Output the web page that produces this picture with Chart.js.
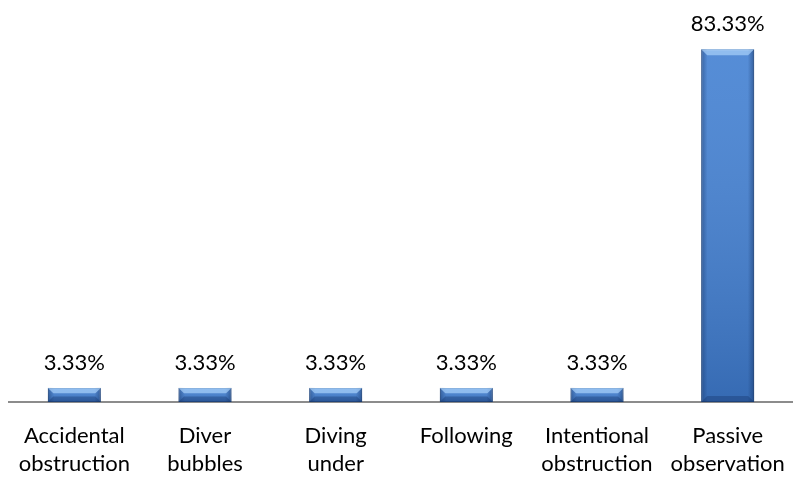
<!DOCTYPE html>
<html>
<head>
<meta charset="utf-8">
<script src="https://cdn.jsdelivr.net/npm/chart.js@4/dist/chart.umd.min.js"></script>
<style>
  html, body { margin: 0; padding: 0; background: #fff; }
  #wrap { width: 793px; height: 482px; position: relative; }
</style>
</head>
<body>
<div id="wrap"><canvas id="barChart"></canvas></div>
<script>
const categories = [
  ['Accidental', 'obstruction'],
  ['Diver', 'bubbles'],
  ['Diving', 'under'],
  ['Following'],
  ['Intentional', 'obstruction'],
  ['Passive', 'observation']
];
const percentages = [3.33, 3.33, 3.33, 3.33, 3.33, 83.33];
const valueLabels = ['3.33%', '3.33%', '3.33%', '3.33%', '3.33%', '83.33%'];

const FONT = 'Lato, "Open Sans", sans-serif';

// bevel shading + value labels, drawn over the library's bars
const barDecor = {
  id: 'barDecor',
  afterDatasetsDraw(chart) {
    const ctx = chart.ctx;
    const meta = chart.getDatasetMeta(0);
    meta.data.forEach((bar, i) => {
      const left = bar.x - bar.width / 2;
      const right = bar.x + bar.width / 2;
      const top = bar.y;
      const bottom = bar.base;
      const h = bottom - top;
      const bev = Math.min(6, h / 2.6);
      ctx.save();
      // per-bar vertical shading
      const vert = ctx.createLinearGradient(0, top, 0, bottom);
      vert.addColorStop(0, 'rgba(255,255,255,0.10)');
      vert.addColorStop(1, 'rgba(10,30,70,0.22)');
      ctx.fillStyle = vert;
      ctx.fillRect(left, top, right - left, h);
      // dark side edges
      const side = ctx.createLinearGradient(left, 0, right, 0);
      side.addColorStop(0, 'rgba(20,50,100,0.45)');
      side.addColorStop(0.12, 'rgba(20,50,100,0.0)');
      side.addColorStop(0.88, 'rgba(20,50,100,0.0)');
      side.addColorStop(1, 'rgba(20,50,100,0.5)');
      ctx.fillStyle = side;
      ctx.fillRect(left, top, right - left, h);
      // top bevel highlight
      ctx.beginPath();
      ctx.moveTo(left, top);
      ctx.lineTo(right, top);
      ctx.lineTo(right - bev, top + bev);
      ctx.lineTo(left + bev, top + bev);
      ctx.closePath();
      ctx.fillStyle = 'rgba(170,210,250,0.7)';
      ctx.fill();
      // bottom bevel shade
      ctx.beginPath();
      ctx.moveTo(left, bottom);
      ctx.lineTo(right, bottom);
      ctx.lineTo(right - bev, bottom - bev);
      ctx.lineTo(left + bev, bottom - bev);
      ctx.closePath();
      ctx.fillStyle = 'rgba(20,50,100,0.35)';
      ctx.fill();
      ctx.restore();

      ctx.save();
      ctx.fillStyle = '#000';
      ctx.font = '22px ' + FONT;
      ctx.textAlign = 'center';
      ctx.textBaseline = 'alphabetic';
      ctx.fillText(valueLabels[i], bar.x, top - 18);
      ctx.restore();
    });
  }
};

const ctx = document.getElementById('barChart');
new Chart(ctx, {
  type: 'bar',
  data: {
    labels: categories,
    datasets: [{
      label: 'Share',
      data: percentages,
      backgroundColor: '#4280d2',
      borderColor: '#2a5a9a',
      borderWidth: 1,
      borderSkipped: false,
      categoryPercentage: 1,
      barPercentage: 0.405
    }]
  },
  options: {
    responsive: true,
    maintainAspectRatio: false,
    animation: false,
    layout: { padding: { left: 9, right: 0, top: 21, bottom: 0 } },
    plugins: {
      legend: { display: false },
      tooltip: { enabled: false }
    },
    scales: {
      x: {
        grid: { display: false, drawTicks: false },
        border: { display: true, color: '#8c8c8c', width: 2 },
        ticks: {
          color: '#000',
          font: { family: FONT, size: 22, lineHeight: 1.27 },
          padding: 20,
          maxRotation: 0,
          autoSkip: false
        },
        afterFit(scale) {
          scale.height = 80;
          scale.paddingLeft = 0;
          scale.paddingRight = 0;
        }
      },
      y: {
        display: false,
        min: 0,
        max: 90
      }
    }
  },
  plugins: [barDecor]
});
</script>
</body>
</html>
